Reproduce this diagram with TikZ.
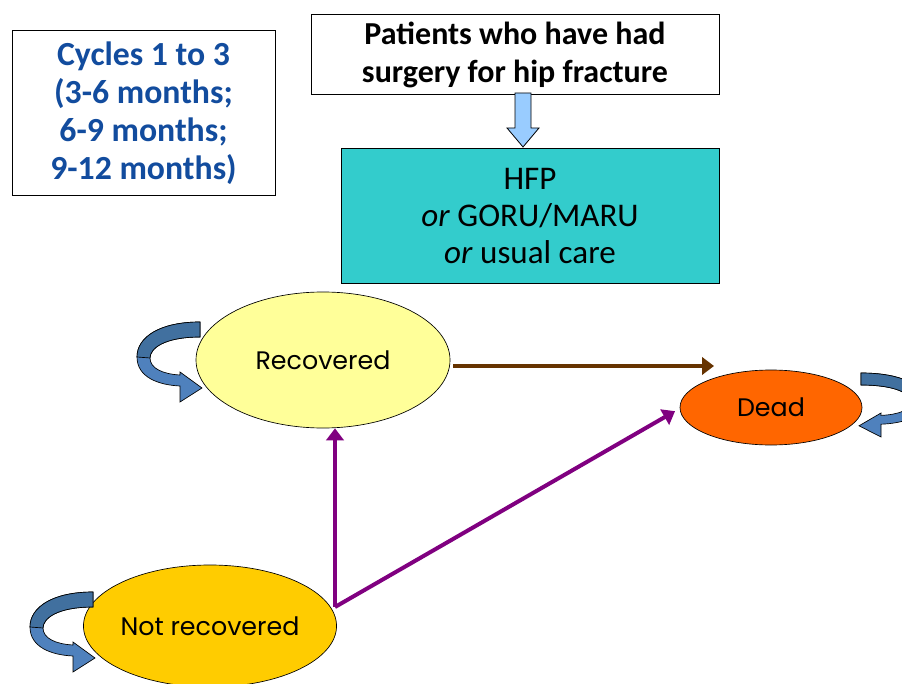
\documentclass[tikz,border=0pt]{standalone}
\usepackage{fontspec}
\setmainfont{Carlito}
\newfontfamily\geofont{Poppins}
\usetikzlibrary{arrows.meta,calc,shapes.geometric}
\definecolor{cycblue}{RGB}{18,76,158}
\definecolor{boxcyan}{HTML}{33CCCC}
\definecolor{recyellow}{HTML}{FFFF99}
\definecolor{deadorange}{HTML}{FF6600}
\definecolor{notrecgold}{HTML}{FFCC00}
\definecolor{brownline}{HTML}{663300}
\definecolor{purpline}{HTML}{800080}
\definecolor{lightarrow}{HTML}{99CCFF}
\definecolor{ribbonlight}{HTML}{4F81BD}
\definecolor{ribbondark}{HTML}{41709F}
\tikzset{
  textbox/.style={draw=black, line width=0.6pt, fill=white, inner sep=0pt, align=center},
  stateell/.style={ellipse, draw=black, line width=0.5pt, inner sep=0pt, font=\geofont\fontsize{19}{22}\selectfont},
  brownarr/.style={draw=brownline, line width=3.2pt, -{Triangle[width=13pt,length=9pt]}},
  purparr/.style={draw=purpline, line width=3pt, -{Triangle[width=13pt,length=9pt]}},
  looparrow/.pic={
    \fill[ribbonlight, draw=black, line width=0.5pt]
      (0,0) .. controls (-40,0) and (-63,15) .. (-63,35)
      .. controls (-63,55) and (-42,63) .. (-20,64)
      -- (-20,80) -- (2,66) -- (-20,50) -- (-20,53)
      .. controls (-38,52) and (-50,46) .. (-50,36)
      .. controls (-50,26) and (-35,15) .. (0,15) -- cycle;
    \fill[ribbondark, draw=black, line width=0.5pt]
      (0,0) .. controls (-40,0) and (-63,15) .. (-63,35)
      -- (-50,36) .. controls (-50,26) and (-35,15) .. (0,15) -- cycle;
  }
}
\begin{document}
\begin{tikzpicture}[x=0.75pt, y=-0.75pt]
\useasboundingbox (0,0) rectangle (902,684);
\clip (0,0) rectangle (902,684);
\fill[white] (0,0) rectangle (902,684);

% boxes
\node[textbox, minimum width=197.25pt, minimum height=123.75pt,
      text=cycblue, font=\bfseries\fontsize{25.3}{28.5}\selectfont] (cyc) at (143.5,113)
  {Cycles 1 to 3\\(3-6 months;\\6-9 months;\\ 9-12 months)};
\node[textbox, minimum width=306pt, minimum height=60pt,
      font=\bfseries\fontsize{24}{28.5}\selectfont] (pat) at (515,54.5)
  {Patients who have had\\surgery for hip fracture};
\node[textbox, fill=boxcyan, minimum width=283.5pt, minimum height=101.25pt,
      font=\fontsize{24.8}{28}\selectfont] (hfp) at (530,216)
  {HFP\\\textit{or} GORU/MARU\\\textit{or} usual care};

% hollow block arrow from pat to hfp
\coordinate (ba) at (523,93);
\coordinate (bb) at (523,147);
\fill[lightarrow, draw=black, line width=0.6pt]
  ($(ba)+(-8,0)$) -- ($(ba)+(8,0)$) -- ($(bb)+(8,-19)$) -- ($(bb)+(16,-19)$)
  -- (bb) -- ($(bb)+(-16,-19)$) -- ($(bb)+(-8,-19)$) -- cycle;

% states
\node[stateell, fill=recyellow, minimum width=190.5pt, minimum height=102pt] (rec) at (323,360) {Recovered};
\node[stateell, fill=deadorange, minimum width=136.5pt, minimum height=56.25pt] (dead) at (771,407.5) {Dead};
\node[stateell, fill=notrecgold, minimum width=187.5pt, minimum height=91.5pt] (notrec) at (210,626) {Not recovered};

% self loops
\pic at (200,322) {looparrow};
\pic at (93,592) {looparrow};
\pic[xscale=-1, yscale=0.8] at (861,373) {looparrow};

% transitions
\coordinate (p0) at (335,607);
\coordinate (b1) at (714,366);
\draw[brownarr] ($(rec.east)+(3,6)$) -- (b1);
\draw[purparr] (p0) -- (p0 |- rec.south);
\draw[purparr, shorten >=4pt] (p0) -- ($(dead.west)+(0,1)$);
\end{tikzpicture}
\end{document}
